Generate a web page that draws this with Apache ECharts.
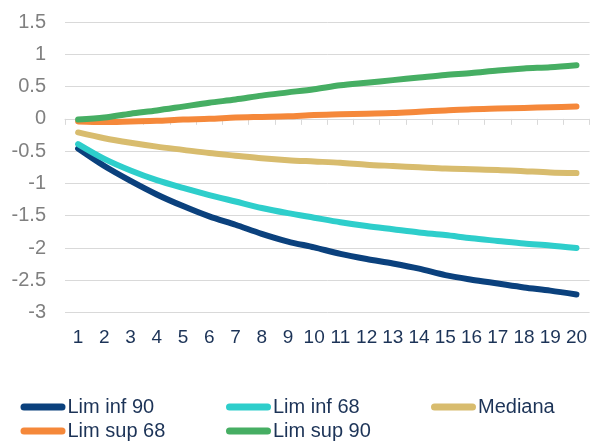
<!DOCTYPE html>
<html>
<head>
<meta charset="utf-8">
<script src="https://cdn.jsdelivr.net/npm/echarts@6/dist/echarts.min.js"></script>
<style>
html,body{margin:0;padding:0;background:#fff;}
#chart{width:590px;height:441px;}
</style>
</head>
<body>
<div id="chart"></div>
<script>
const categories = ['1','2','3','4','5','6','7','8','9','10','11','12','13','14','15','16','17','18','19','20'];
const limInf90 = [-0.46,-0.73,-0.96,-1.17,-1.35,-1.51,-1.64,-1.78,-1.90,-1.99,-2.09,-2.17,-2.24,-2.32,-2.42,-2.49,-2.55,-2.61,-2.66,-2.72];
const limInf68 = [-0.39,-0.62,-0.80,-0.95,-1.07,-1.18,-1.28,-1.38,-1.46,-1.53,-1.60,-1.66,-1.71,-1.76,-1.80,-1.85,-1.89,-1.93,-1.96,-2.00];
const mediana  = [-0.21,-0.30,-0.37,-0.43,-0.48,-0.53,-0.57,-0.61,-0.64,-0.66,-0.68,-0.71,-0.73,-0.75,-0.77,-0.78,-0.79,-0.81,-0.83,-0.84];
const limSup68 = [-0.04,-0.05,-0.04,-0.03,-0.01,0.00,0.02,0.03,0.04,0.06,0.07,0.08,0.09,0.11,0.13,0.15,0.16,0.17,0.18,0.19];
const limSup90 = [-0.01,0.02,0.08,0.13,0.19,0.25,0.30,0.36,0.41,0.46,0.52,0.56,0.60,0.64,0.68,0.71,0.75,0.78,0.80,0.83];
const seriesNames = ['Lim inf 90','Lim inf 68','Mediana','Lim sup 68','Lim sup 90'];
const seriesData = [limInf90, limInf68, mediana, limSup68, limSup90];
const colors = ['#0B417D','#2ECECB','#D8BC6E','#F5883A','#46AE63'];

const FONT = 'Liberation Sans, Arial, sans-serif';
const TEXT = '#1C3357';
const ICON = 'path://M3.5,0 L41.5,0 A3.5,3.5 0 0 1 41.5,7 L3.5,7 A3.5,3.5 0 0 1 3.5,0 Z';

const legendPos = [[20.5,397],[226,397],[431,397],[20.5,421],[226,421]];
const legends = seriesNames.map((n,i)=>({
  data:[n], left:legendPos[i][0], top:legendPos[i][1], padding:0,
  icon:ICON, itemWidth:45, itemHeight:7, selectedMode:false,
  textStyle:{fontFamily:FONT, fontSize:20, color:TEXT, padding:[0,0,0,-3]}
}));

const chart = echarts.init(document.getElementById('chart'), null, {renderer:'canvas'});
chart.setOption({
  animation:false,
  color:colors,
  textStyle:{fontFamily:FONT},
  grid:{left:65, top:22, width:526, height:290.6, containLabel:false},
  legend:legends,
  xAxis:[
    {type:'category', data:categories, boundaryGap:true,
     axisLine:{onZero:true, lineStyle:{color:'#D9D9D9', width:1}},
     axisTick:{show:true, length:6, lineStyle:{color:'#D9D9D9'}},
     axisLabel:{show:false}, splitLine:{show:false}},
    {type:'category', data:categories, position:'bottom', boundaryGap:true,
     axisLine:{show:false}, axisTick:{show:false},
     axisLabel:{show:true, margin:16, fontSize:19, color:TEXT, fontFamily:FONT, interval:0},
     splitLine:{show:false}}
  ],
  yAxis:{type:'value', min:-3, max:1.5, interval:0.5,
    axisLine:{show:false}, axisTick:{show:false},
    axisLabel:{fontSize:20, color:'#808080', fontFamily:FONT, margin:19},
    splitLine:{lineStyle:{color:'#D9D9D9', width:1}}},
  series: seriesNames.map((n,i)=>({
    name:n, type:'line', xAxisIndex:0, data:seriesData[i],
    symbol:'none', smooth:0.3,
    lineStyle:{width:6, color:colors[i], cap:'round', join:'round'},
    itemStyle:{color:colors[i]}
  }))
});
</script>
</body>
</html>
